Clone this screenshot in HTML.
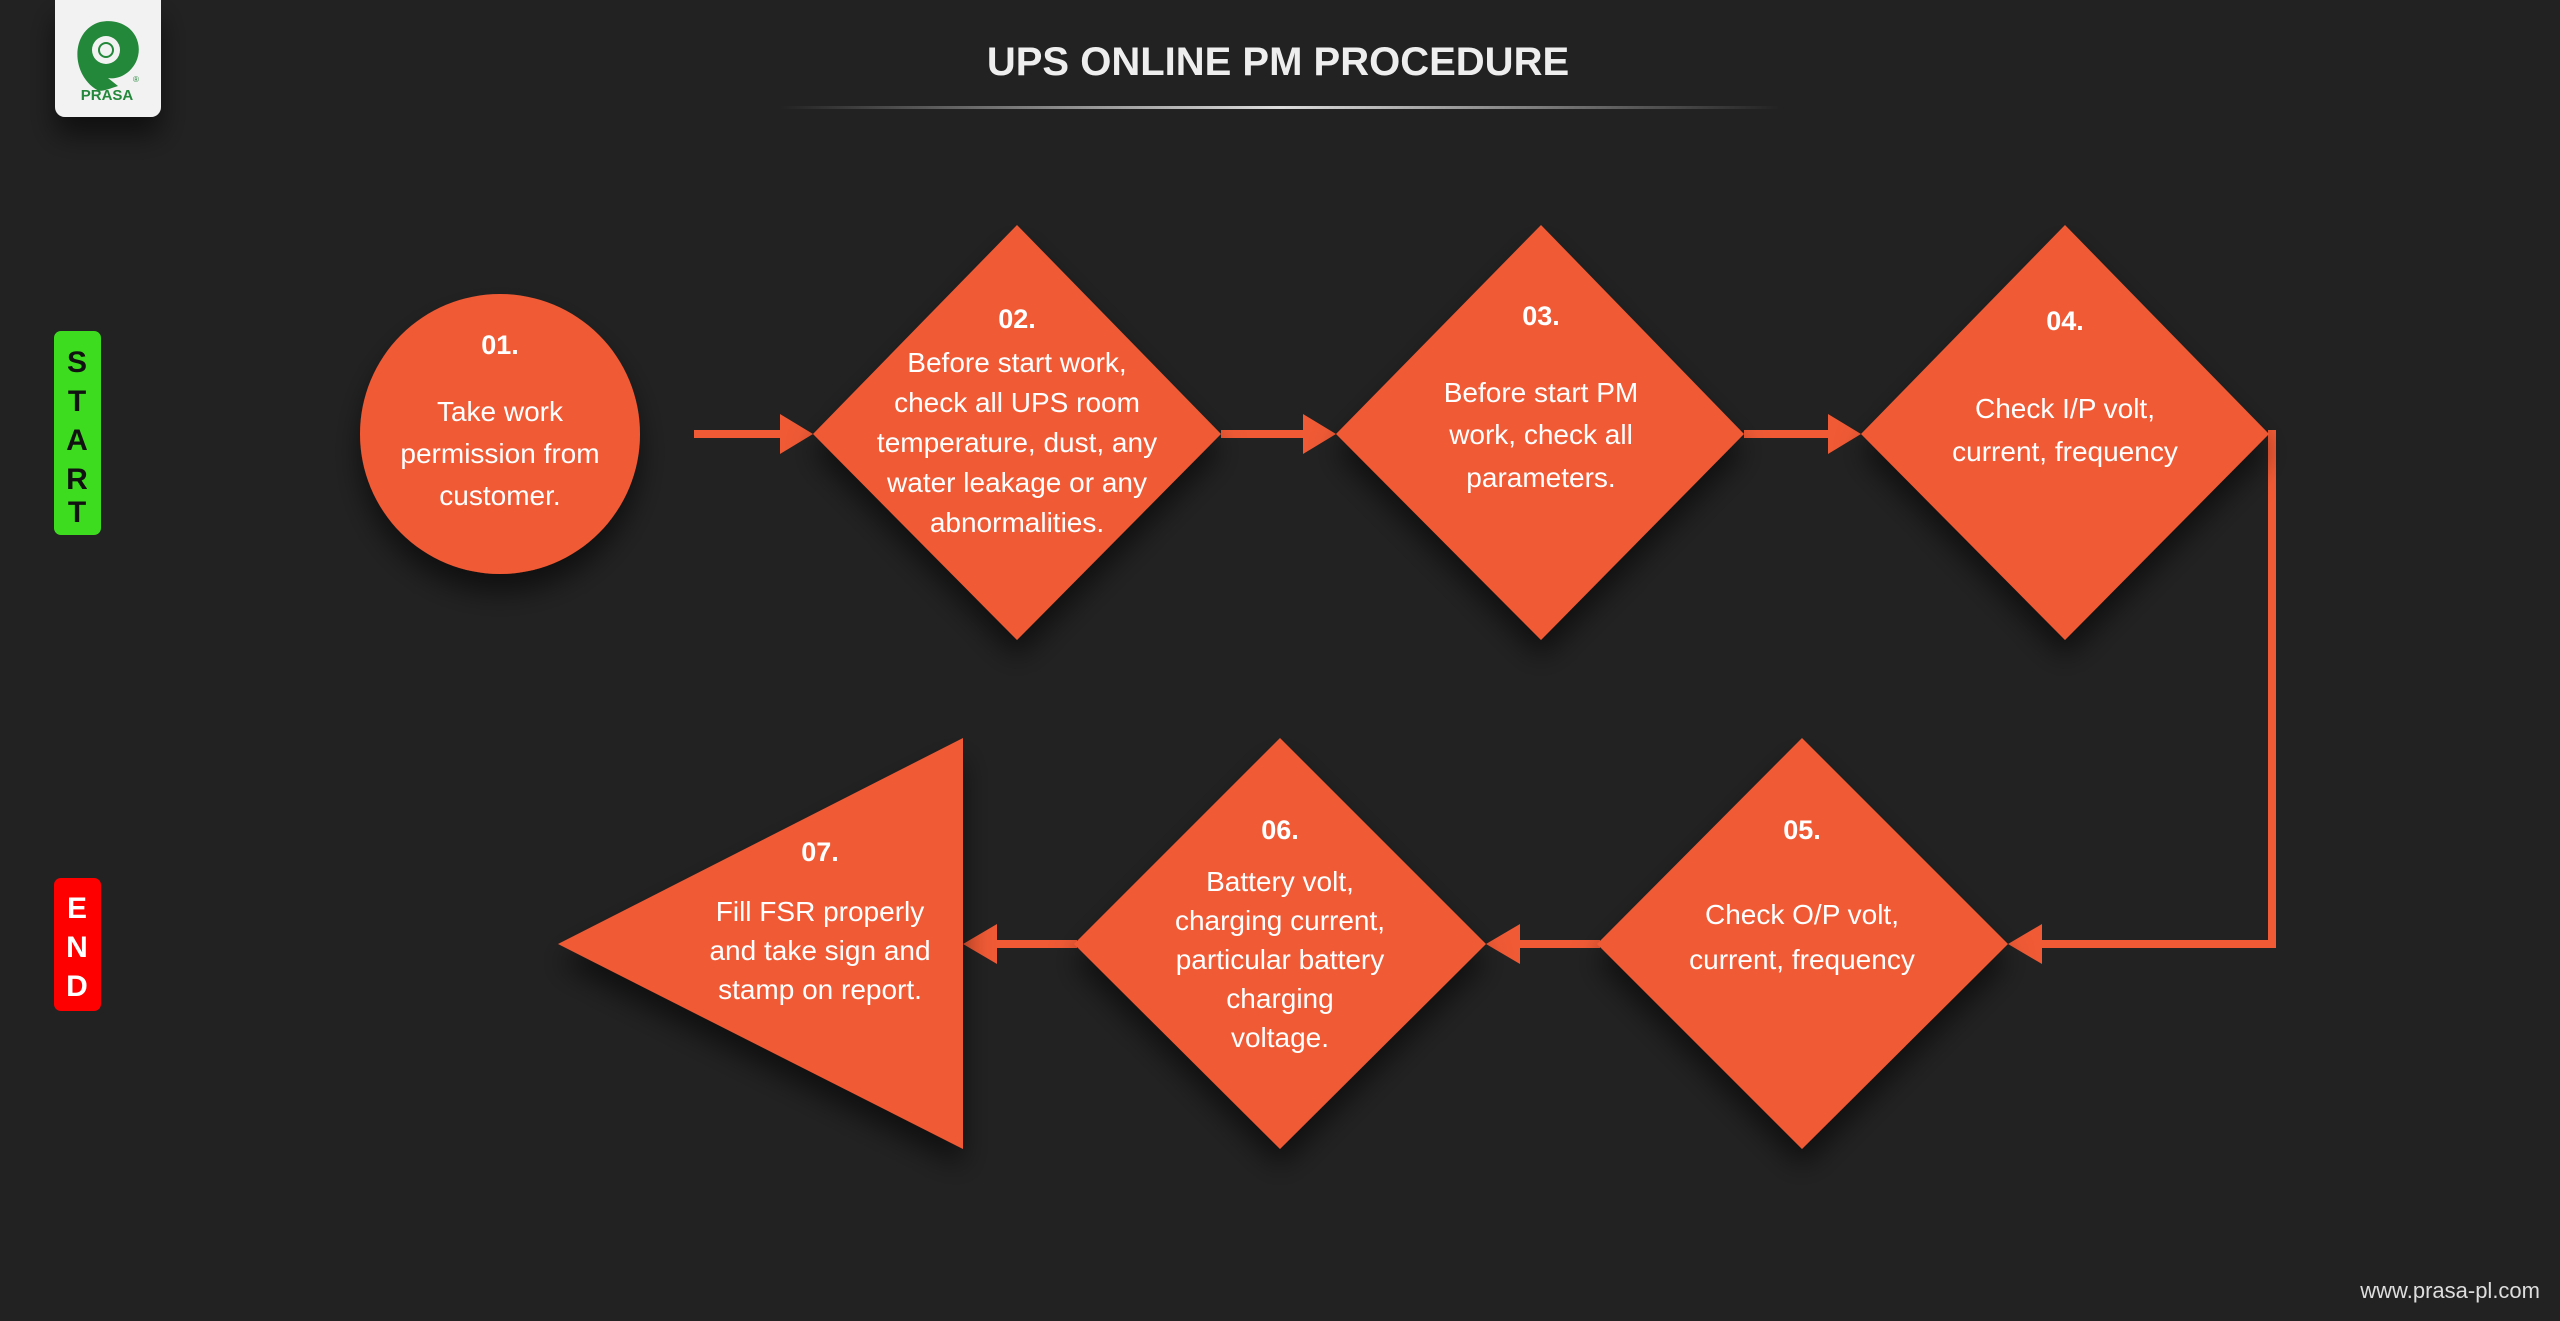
<!DOCTYPE html>
<html><head><meta charset="utf-8"><style>
html,body{margin:0;padding:0;background:#222;width:2560px;height:1321px;overflow:hidden}
svg{display:block}
text{font-family:"Liberation Sans",sans-serif;fill:#fff}
</style></head><body>
<svg width="2560" height="1321" viewBox="0 0 2560 1321" xmlns="http://www.w3.org/2000/svg">
<defs>
<filter id="sh" x="-30%" y="-30%" width="160%" height="170%"><feDropShadow dx="0" dy="18" stdDeviation="14" flood-color="#000" flood-opacity="0.55"/></filter>
<linearGradient id="ln" x1="0" x2="1"><stop offset="0" stop-color="#222"/><stop offset="0.5" stop-color="#ddd"/><stop offset="1" stop-color="#222"/></linearGradient>
</defs>
<rect width="2560" height="1321" fill="#222"/>
<!-- logo -->
<path d="M55 0H161V107a10 10 0 0 1-10 10H65a10 10 0 0 1-10-10Z" fill="#f2f2f2" filter="url(#sh)"/>
<path d="M94 88 C70 70 72 30 100 22 C128 16 146 40 136 62 C130 74 118 80 108 78 L118 86 C100 92 100 92 94 88Z" fill="#23883a"/>
<circle cx="106" cy="50" r="14" fill="#f2f2f2"/>
<circle cx="106" cy="50" r="7" fill="none" stroke="#23883a" stroke-width="2"/>
<text x="107" y="100" text-anchor="middle" font-size="15" font-weight="bold" style="fill:#23883a">PRASA</text>
<text x="133" y="82" font-size="8" style="fill:#23883a">®</text>
<!-- title -->
<text x="1278" y="75" text-anchor="middle" font-size="40" font-weight="bold" style="fill:#eee">UPS ONLINE PM PROCEDURE</text>
<rect x="780" y="106" width="1000" height="3" fill="url(#ln)"/>
<!-- start/end -->
<rect x="54" y="331" width="47" height="204" rx="7" fill="#3ddc1f"/>
<g font-size="30" font-weight="bold" text-anchor="middle" style="fill:#111">
<text x="77" y="372" style="fill:#111">S</text><text x="77" y="411" style="fill:#111">T</text><text x="77" y="450" style="fill:#111">A</text><text x="77" y="489" style="fill:#111">R</text><text x="77" y="522" style="fill:#111">T</text>
</g>
<rect x="54" y="878" width="47" height="133" rx="7" fill="#f00"/>
<g font-size="30" font-weight="bold" text-anchor="middle">
<text x="77" y="918">E</text><text x="77" y="957">N</text><text x="77" y="996">D</text>
</g>
<!-- connectors -->
<g fill="#f05a35">
<rect x="694" y="430" width="100" height="8"/><polygon points="780,414 813,434 780,454"/>
<rect x="1221" y="430" width="95" height="8"/><polygon points="1303,414 1336,434 1303,454"/>
<rect x="1744" y="430" width="97" height="8"/><polygon points="1828,414 1861,434 1828,454"/>
<path d="M2268 430H2276V948H2030V940H2268Z"/><polygon points="2042,924 2008,944 2042,964"/>
<rect x="1510" y="940" width="90" height="8"/><polygon points="1520,924 1486,944 1520,964"/>
<rect x="985" y="940" width="92" height="8"/><polygon points="997,924 963,944 997,964"/>
</g>
<!-- shapes -->
<g fill="#f05a35" filter="url(#sh)">
<circle cx="500" cy="434" r="140"/>
<polygon points="1017,225 1221,434 1017,640 813,434"/>
<polygon points="1541,225 1744,434 1541,640 1336,434"/>
<polygon points="2065,225 2269,434 2065,640 1861,434"/>
<polygon points="1802,738 2008,944 1802,1149 1597,944"/>
<polygon points="1280,738 1486,944 1280,1149 1074,944"/>
<polygon points="558,944 963,738 963,1149"/>
</g>
<!-- text -->
<g text-anchor="middle" font-size="28">
<text x="500" y="354" font-weight="bold" font-size="27">01.</text>
<text x="500" y="421">Take work</text><text x="500" y="463">permission from</text><text x="500" y="505">customer.</text>
<text x="1017" y="328" font-weight="bold" font-size="27">02.</text>
<text x="1017" y="372">Before start work,</text><text x="1017" y="412">check all UPS room</text><text x="1017" y="452">temperature, dust, any</text><text x="1017" y="492">water leakage or any</text><text x="1017" y="516" dy="16">abnormalities.</text>
<text x="1541" y="325" font-weight="bold" font-size="27">03.</text>
<text x="1541" y="402">Before start PM</text><text x="1541" y="444">work, check all</text><text x="1541" y="487">parameters.</text>
<text x="2065" y="330" font-weight="bold" font-size="27">04.</text>
<text x="2065" y="418">Check I/P volt,</text><text x="2065" y="461">current, frequency</text>
<text x="1802" y="839" font-weight="bold" font-size="27">05.</text>
<text x="1802" y="924">Check O/P volt,</text><text x="1802" y="969">current, frequency</text>
<text x="1280" y="839" font-weight="bold" font-size="27">06.</text>
<text x="1280" y="891">Battery volt,</text><text x="1280" y="930">charging current,</text><text x="1280" y="969">particular battery</text><text x="1280" y="1008">charging</text><text x="1280" y="1047">voltage.</text>
<text x="820" y="861" font-weight="bold" font-size="27">07.</text>
<text x="820" y="921">Fill FSR properly</text><text x="820" y="960">and take sign and</text><text x="820" y="999">stamp on report.</text>
</g>
<text x="2540" y="1298" text-anchor="end" font-size="22" style="fill:#ddd">www.prasa-pl.com</text>
</svg>
</body></html>
